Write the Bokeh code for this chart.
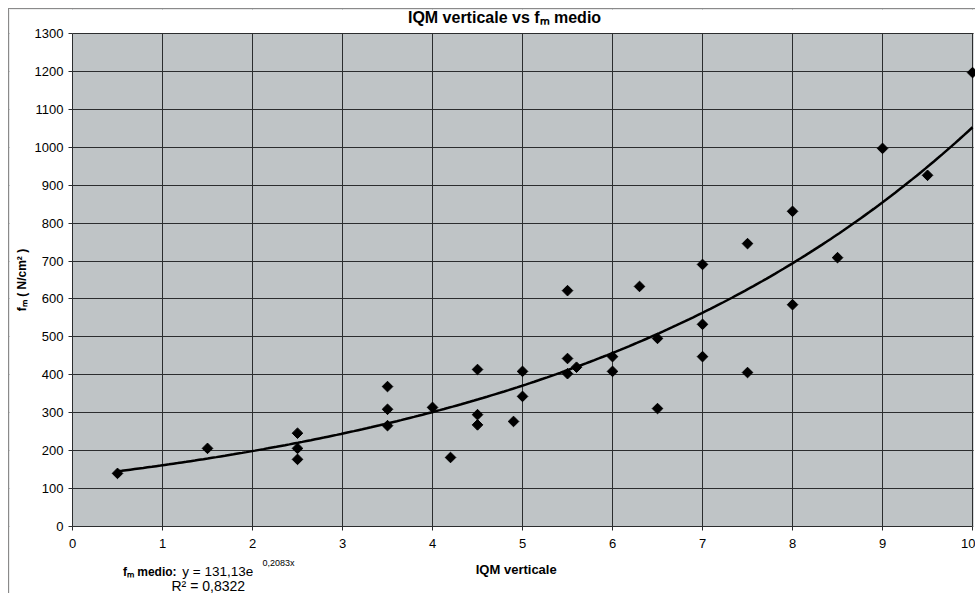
import numpy as np
from bokeh.plotting import figure
from bokeh.models import Range1d, Label, FixedTicker, BoxAnnotation
from bokeh.embed import file_html
from bokeh.resources import INLINE

# ---- data ----
iqm = [0.5, 1.5, 2.5, 2.5, 2.5, 3.5, 3.5, 3.5, 4.0, 4.2, 4.5, 4.5, 4.5, 4.9,
       5.0, 5.0, 5.5, 5.5, 5.5, 5.6, 6.0, 6.0, 6.3, 6.5, 6.5, 7.0, 7.0, 7.0,
       7.5, 7.5, 8.0, 8.0, 8.5, 9.0, 9.5, 10.0]
fm = [140, 206, 246, 206, 177, 369, 309, 266, 314, 182, 414, 295, 268, 277,
      409, 343, 622, 443, 403, 420, 448, 409, 633, 496, 311, 691, 533, 448,
      746, 406, 831, 585, 709, 997, 926, 1197]

fit_a = 131.13
fit_b = 0.2083
fit_x_start = 0.5
fit_x_end = 10.0

x_ticks = list(range(0, 11))
y_ticks = list(range(0, 1301, 100))
x_min, x_max = 0, 10
y_min, y_max = 0, 1300

title_text = "IQM verticale vs f\u2098 medio"
x_label = "IQM verticale"
y_label = "f\u2098 ( N/cm\u00b2 )"
eq_name = "f\u2098 medio:"
eq_main = "y = 131,13e"
eq_sup = "0,2083x"
r2_text = "R\u00b2 = 0,8322"

FONT = "Liberation Sans"
BG = "#bfc4c6"
GRID = "#2b2d2e"

# the frame spans the whole canvas so that the texts around the plot area are
# not clipped; everything outside 0..10 x 0..1300 is painted white
view_left, view_right = -0.7, 10.044
view_bottom, view_top = -179.3, 1363.3

p = figure(width=967, height=585, output_backend="svg", toolbar_location=None,
           x_range=Range1d(view_left, view_right),
           y_range=Range1d(view_bottom, view_top),
           min_border_left=0, min_border_right=0, min_border_top=0,
           min_border_bottom=0)
p.styles = {"margin-left": "8px", "margin-top": "8px",
            "border-left": "1px solid #8a8a8a", "border-top": "1px solid #8a8a8a"}
p.background_fill_color = BG
p.border_fill_color = "white"
p.outline_line_color = None

p.xaxis.ticker = FixedTicker(ticks=x_ticks)
p.yaxis.ticker = FixedTicker(ticks=y_ticks)
p.xaxis.fixed_location = y_min
p.yaxis.fixed_location = x_min
p.xaxis.bounds = (x_min, x_max)
p.yaxis.bounds = (y_min, y_max)
for ax in (p.xaxis[0], p.yaxis[0]):
    ax.major_label_text_font = FONT
    ax.major_label_text_font_size = "13px"
    ax.major_label_text_color = "black"
    ax.axis_line_color = GRID
    ax.major_tick_line_color = GRID
    ax.major_tick_out = 4
    ax.major_tick_in = 0
    ax.minor_tick_line_color = None
p.xaxis.major_label_standoff = 8
p.yaxis.major_label_standoff = 5

p.xgrid.ticker = FixedTicker(ticks=x_ticks)
p.ygrid.ticker = FixedTicker(ticks=y_ticks)
p.grid.grid_line_color = GRID
p.grid.grid_line_width = 1

# white outside the plot area (drawn after the grids)
for kw in (dict(top=y_min), dict(bottom=y_max + 1.5),
           dict(right=x_min), dict(left=x_max + 0.012)):
    p.add_layout(BoxAnnotation(fill_color="white", fill_alpha=1,
                               line_color=None, level="underlay", **kw))

# trend line from the displayed fit y = a * exp(b x)
fx = np.linspace(fit_x_start, fit_x_end, 200)
fy = fit_a * np.exp(fit_b * fx)
p.line(fx, fy, line_color="black", line_width=2.5)

p.scatter(iqm, fm, marker="square", angle=np.pi / 4, size=7.5,
          fill_color="black", line_color="black")


def add_text(x, y, text, size, bold=False, align="left", angle=0.0):
    p.add_layout(Label(x=x, y=y, text=text, text_align=align,
                       text_baseline="middle", text_font=FONT,
                       text_font_style="bold" if bold else "normal",
                       text_font_size=size, text_color="black",
                       angle=angle, level="overlay"))


# title, axis titles and fit annotation
add_text(4.8, 1342, title_text, "16px", bold=True, align="center")
add_text(4.93, -113, x_label, "13px", bold=True, align="center")
add_text(-0.556, 650, y_label, "12px", bold=True, align="center", angle=np.pi / 2)
add_text(0.56, -119, eq_name, "12px", bold=True)
add_text(1.22, -119, eq_main, "13.5px")
add_text(2.11, -95, eq_sup, "9px")
add_text(1.1, -158, r2_text, "14px")

open("out.html", "w").write(file_html(p, INLINE))
